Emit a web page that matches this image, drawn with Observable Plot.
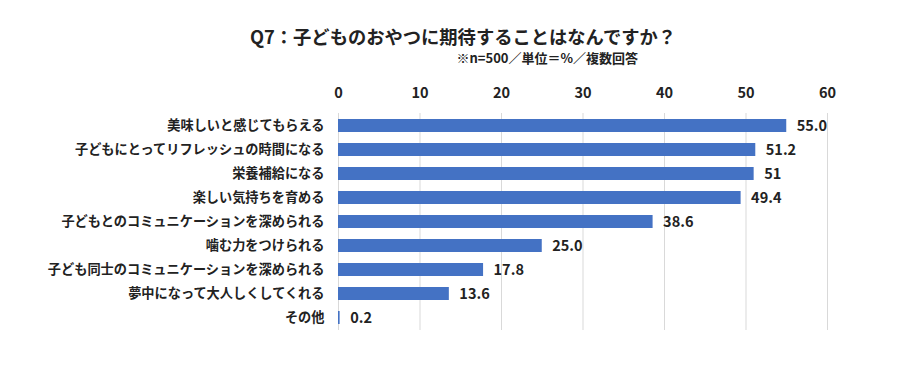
<!DOCTYPE html>
<html><head><meta charset="utf-8">
<script src="https://cdn.jsdelivr.net/npm/d3@7"></script>
<script src="https://cdn.jsdelivr.net/npm/@observablehq/plot@0.6"></script>
<style>
body{margin:0;background:#fff;font-family:"Noto Sans CJK JP",sans-serif;}
#wrap{position:relative;width:903px;height:382px;}
#title{position:absolute;left:0;width:926px;top:27px;line-height:18px;text-align:center;font-size:18.3px;font-weight:bold;color:#222;}
#sub{position:absolute;right:265px;top:51px;line-height:14px;font-size:13px;font-weight:bold;color:#222;}
#chart{position:absolute;left:0;top:75px;}
</style></head>
<body><div id="wrap">
<div id="title">Q7：子どものおやつに期待することはなんですか？</div>
<div id="sub">※n=500／単位＝%／複数回答</div>
<div id="chart"></div>
</div>
<script>
const categories = ["美味しいと感じてもらえる","子どもにとってリフレッシュの時間になる","栄養補給になる","楽しい気持ちを育める","子どもとのコミュニケーションを深められる","噛む力をつけられる","子ども同士のコミュニケーションを深められる","夢中になって大人しくしてくれる","その他"];
const values = [55.0, 51.2, 51, 49.4, 38.6, 25.0, 17.8, 13.6, 0.2];
const valueLabels = ["55.0","51.2","51","49.4","38.6","25.0","17.8","13.6","0.2"];
const xTicks = [0,10,20,30,40,50,60];

const data = categories.map((c,i)=>({cat:c, v:values[i], lab:valueLabels[i]}));
const chart = Plot.plot({
  width: 903, height: 307,
  marginLeft: 338, marginRight: 76, marginTop: 38, marginBottom: 52,
  style:{fontFamily:'"Noto Sans CJK JP",sans-serif', fontWeight:"bold", color:"#222"},
  x:{domain:[0,60], ticks:xTicks, axis:"top", label:null, tickSize:0, tickPadding:16, grid:false},
  y:{domain:categories, label:null, tickSize:0, tickPadding:14, paddingInner:0.46, paddingOuter:0.23},
  marks:[
    Plot.ruleX(xTicks,{stroke:"#d9d9d9", strokeWidth:1}),
    Plot.barX(data,{x:"v", y:"cat", fill:"#4472C4"}),
    Plot.text(data,{x:"v", y:"cat", text:"lab", textAnchor:"start", dx:10, fontSize:14.5, fontWeight:"bold", fill:"#222"})
  ]
});
chart.querySelectorAll('[aria-label="x-axis tick label"] text').forEach(t=>t.style.fontSize="14.5px");
chart.querySelectorAll('[aria-label="y-axis tick label"] text').forEach(t=>t.style.fontSize="13.2px");
document.getElementById("chart").append(chart);
</script>
</body></html>
